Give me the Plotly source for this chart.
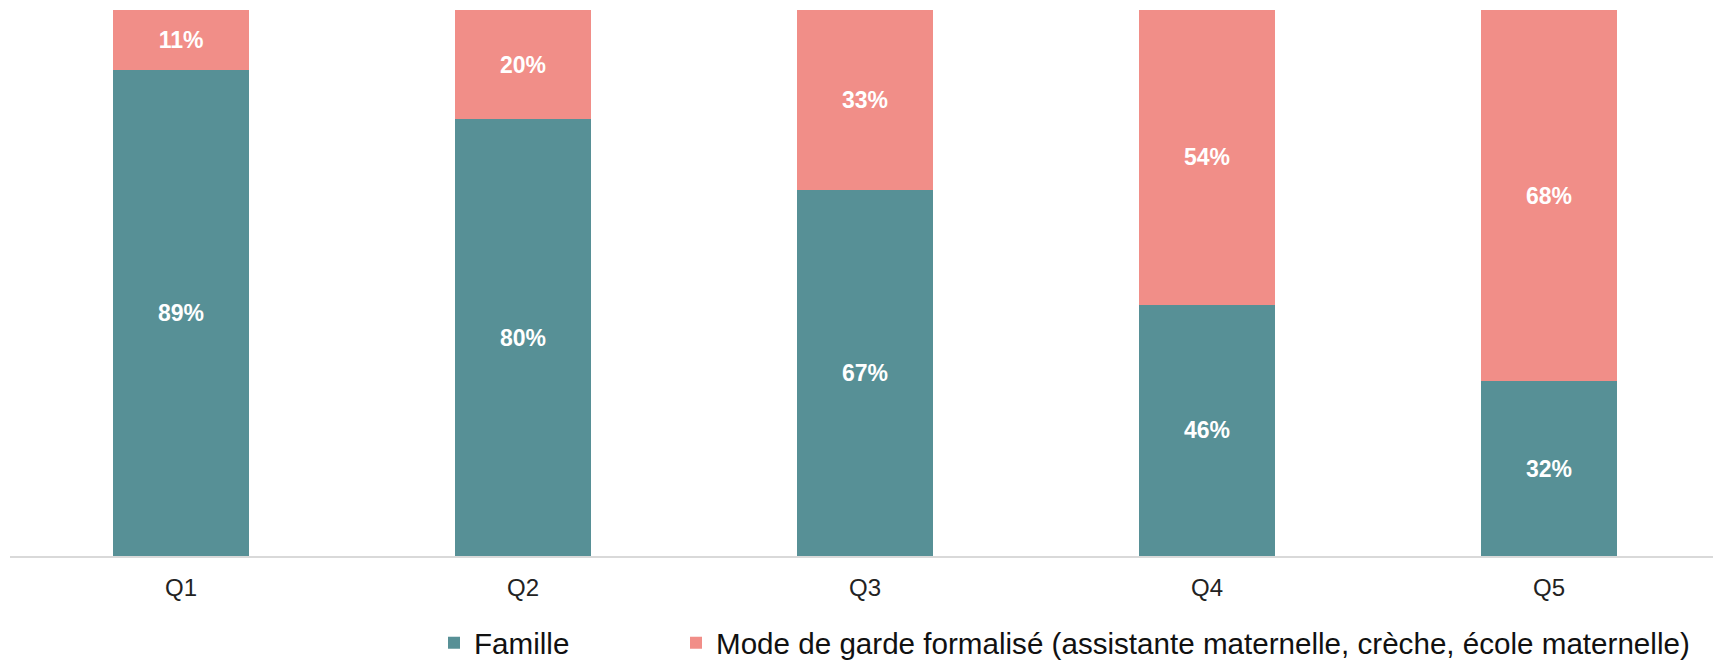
import plotly.graph_objects as go

quintiles = ["Q1", "Q2", "Q3", "Q4", "Q5"]
famille = [89, 80, 67, 46, 32]
formel = [11, 20, 33, 54, 68]

TEAL = "#579096"
PINK = "#F18E88"
FONT = "Liberation Sans, Arial, sans-serif"


def main():
    fig = go.Figure()
    fig.add_trace(go.Bar(x=quintiles, y=famille, name="Famille",
                         marker=dict(color=TEAL, line=dict(width=0)),
                         text=[f"{v}%" for v in famille], textposition="inside",
                         insidetextanchor="middle", legend="legend",
                         textfont=dict(color="white", size=23, family=FONT, weight="bold")))
    fig.add_trace(go.Bar(x=quintiles, y=formel,
                         name="Mode de garde formalisé (assistante maternelle, crèche, école maternelle)",
                         marker=dict(color=PINK, line=dict(width=0)),
                         text=[f"{v}%" for v in formel], textposition="inside",
                         insidetextanchor="middle", legend="legend2",
                         textfont=dict(color="white", size=23, family=FONT, weight="bold")))

    # one legend per series so each entry sits where the original puts it
    leg = dict(orientation="h", yref="container", xref="container", y=25 / 660,
               yanchor="middle", xanchor="left", font=dict(size=29.6, color="#111111"),
               bgcolor="rgba(0,0,0,0)")
    fig.update_layout(
        barmode="stack",
        bargap=0.6,
        width=1721, height=660,
        margin=dict(l=2, r=9, t=2, b=112),
        plot_bgcolor="white", paper_bgcolor="white",
        font=dict(family=FONT, color="#222222"),
        uniformtext=dict(mode="show", minsize=10),
        showlegend=True,
        legend=dict(leg, x=426 / 1721),
        legend2=dict(leg, x=668 / 1721),
    )
    fig.update_xaxes(showline=True, linecolor="#D9D9D9", linewidth=1.5, ticks="",
                     ticklabelstandoff=9, range=[-0.5, 4.5],
                     tickfont=dict(size=24, color="#222222"), showgrid=False)
    fig.update_yaxes(range=[0, 100], visible=False, showgrid=False)

    fig.write_html("out.html")


if __name__ == '__main__':
    main()
